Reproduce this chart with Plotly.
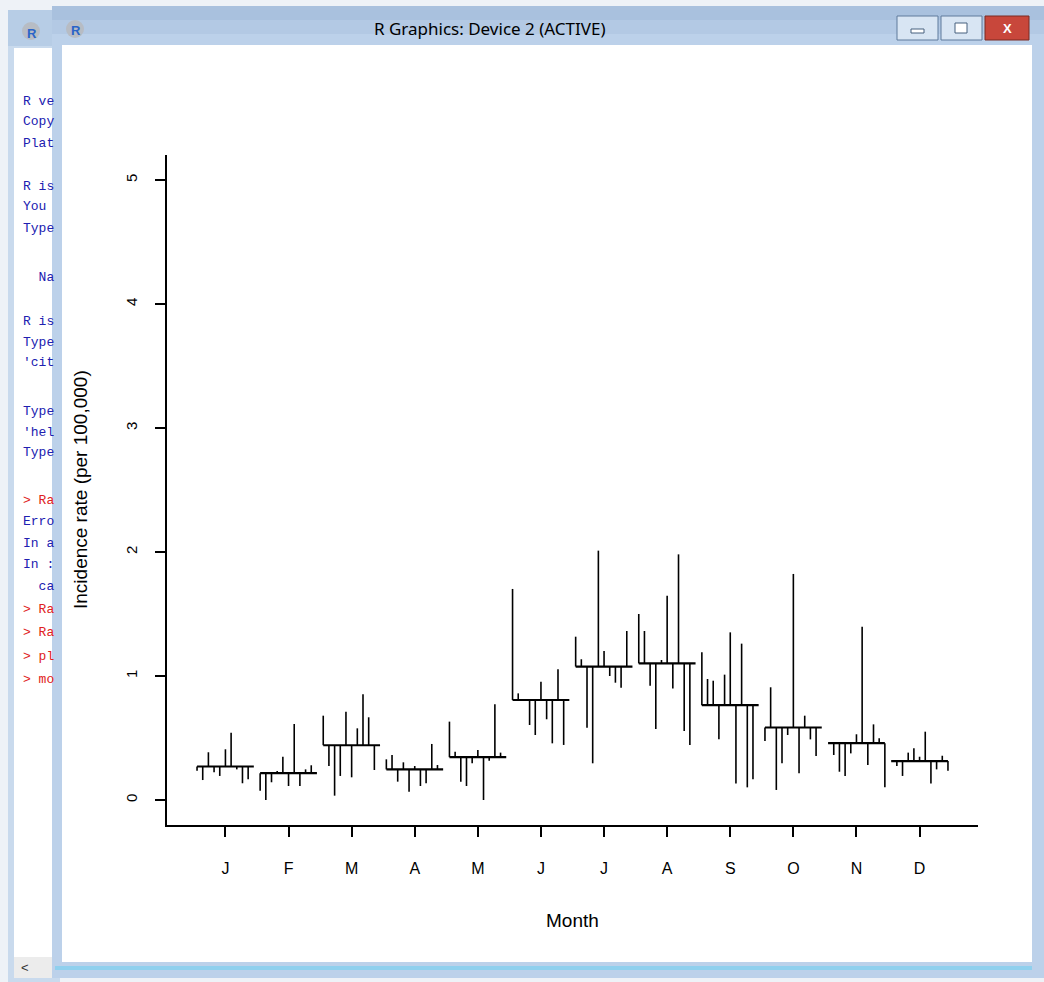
import plotly.graph_objects as go
import numpy as np

# ---------------- data ----------------
month_labels = ["J", "F", "M", "A", "M", "J", "J", "A", "S", "O", "N", "D"]
y_ticks = [0, 1, 2, 3, 4, 5]

# one entry per year slot (11 slots); None = no observation in that slot
jan = [0.236, 0.161, 0.385, 0.223, 0.194, 0.409, 0.543, 0.247, 0.135, 0.167, None]
feb = [0.075, 0.000, 0.143, 0.234, 0.349, 0.113, 0.613, 0.113, 0.247, 0.280, None]
mar = [0.680, 0.274, 0.035, 0.194, 0.712, 0.183, 0.578, 0.852, 0.667, 0.242, None]
apr = [0.328, 0.363, 0.148, 0.304, 0.067, 0.274, 0.113, 0.135, 0.452, 0.282, None]
may = [0.632, 0.390, 0.148, 0.113, 0.296, 0.403, 0.000, 0.317, 0.772, 0.382, None]
jun = [1.702, 0.860, 0.815, 0.605, 0.524, 0.954, 0.651, 0.457, 1.054, 0.444, None]
jul = [1.317, 1.135, 0.583, 0.296, 2.011, 1.202, 1.000, 0.946, 0.906, 1.363, None]
aug = [1.500, 1.363, 0.922, 0.573, 1.129, 1.648, 0.900, 1.981, 0.556, 0.444, None]
sep = [1.191, 0.976, 0.962, 0.489, 1.011, 1.352, 0.134, 1.261, 0.102, 0.167, None]
octo = [0.476, 0.909, 0.081, 0.296, 0.524, 1.823, 0.215, 0.680, 0.489, 0.355, None]
nov = [None, 0.363, 0.228, 0.194, 0.376, 0.530, 1.398, 0.282, 0.610, 0.497, 0.102]
dec = [None, 0.274, 0.194, 0.382, 0.417, 0.349, 0.551, 0.134, 0.247, 0.357, 0.236]

series = [jan, feb, mar, apr, may, jun, jul, aug, sep, octo, nov, dec]

console_lines = [
    ("R ve", 101, "#2020b0"), ("Copy", 122, "#2020b0"), ("Plat", 143, "#2020b0"),
    ("R is", 186, "#2020b0"), ("You", 207, "#2020b0"), ("Type", 228, "#2020b0"),
    ("  Na", 278, "#2020b0"), ("R is", 321, "#2020b0"), ("Type", 342, "#2020b0"),
    ("'cit", 363, "#2020b0"), ("Type", 411, "#2020b0"), ("'hel", 432, "#2020b0"),
    ("Type", 453, "#2020b0"), ("> Ra", 500, "#e02020"), ("Erro", 521, "#2020b0"),
    ("In a", 543, "#2020b0"), ("In :", 564, "#2020b0"), ("  ca", 586, "#2020b0"),
    ("> Ra", 609, "#e02020"), ("> Ra", 632, "#e02020"), ("> pl", 656, "#e02020"),
    ("> mo", 679, "#e02020"),
]

# ---------------- geometry helpers ----------------
W, H = 1044, 982
def px(x):
    return x / W
def py(y):
    return 1 - y / H

# ---------------- build monthplot traces ----------------
seg_x, seg_y, base_x, base_y = [], [], [], []
nslot = 11
for i, vals in enumerate(series, start=1):
    arr = np.array([np.nan if v is None else v for v in vals], dtype=float)
    m = float(np.nanmean(arr))
    for k, v in enumerate(vals):
        if v is None:
            continue
        xp = i - 0.45 + 0.9 * k / (nslot - 1)
        seg_x += [xp, xp, None]
        seg_y += [m, v, None]
    base_x += [i - 0.45, i + 0.45, None]
    base_y += [m, m, None]

fig = go.Figure()
fig.add_trace(go.Scatter(x=seg_x, y=seg_y, mode="lines",
                         line=dict(color="black", width=1.6), hoverinfo="skip",
                         showlegend=False))
fig.add_trace(go.Scatter(x=base_x, y=base_y, mode="lines",
                         line=dict(color="black", width=2.2), hoverinfo="skip",
                         showlegend=False))

# ---------------- window chrome ----------------
shapes = []
def rect(x0, y0, x1, y1, fill, line=None, lw=0, layer="below"):
    shapes.append(dict(type="rect", xref="paper", yref="paper",
                       x0=px(x0), x1=px(x1), y0=py(y1), y1=py(y0),
                       fillcolor=fill, line=dict(color=line or fill, width=lw),
                       layer=layer))

# console window (behind)
rect(8, 10, 60, 982, "#c9daed")
rect(8, 10, 60, 46, "#b7cde6")
rect(14, 48, 60, 957, "#ffffff")
rect(14, 957, 60, 978, "#ececec")
# graphics window frame
rect(52, 6, 1044, 978, "#bcd1ea")
rect(52, 6, 1044, 20, "#a9c1de")
rect(52, 20, 1044, 34, "#b3c9e4")
rect(62, 45, 1032, 962, "#ffffff")
rect(55, 966, 1032, 970, "#8fd0ee")
# title bar buttons
rect(897, 16, 938, 40, "#d8e5f3", "#5f7a9c", 1)
rect(941, 16, 982, 40, "#d8e5f3", "#5f7a9c", 1)
rect(985, 16, 1029, 40, "#c8473b", "#7a2a22", 1)
rect(911, 29, 924, 33, "#ffffff", "#46607f", 1)
rect(955, 23, 967, 33, "#ffffff", "#46607f", 1)
# R logos
shapes.append(dict(type="circle", xref="paper", yref="paper",
                   x0=px(22), x1=px(40), y0=py(40), y1=py(22),
                   fillcolor="#b7bcc4", line=dict(width=0), layer="below"))
shapes.append(dict(type="circle", xref="paper", yref="paper",
                   x0=px(66), x1=px(84), y0=py(38), y1=py(20),
                   fillcolor="#b7bcc4", line=dict(width=0), layer="below"))

annotations = []
def text(s, x, y, size, color="black", family="Liberation Sans", xanchor="center",
         yanchor="middle", angle=0, bold=False):
    annotations.append(dict(text=("<b>%s</b>" % s) if bold else s, x=px(x), y=py(y),
                            xref="paper", yref="paper", showarrow=False,
                            xanchor=xanchor, yanchor=yanchor, textangle=angle,
                            font=dict(size=size, color=color, family=family)))

text("R Graphics: Device 2 (ACTIVE)", 490, 29, 17, family="Noto Sans")
text("R", 32, 33, 13, color="#2a64c8", bold=True)
text("R", 76, 30, 13, color="#2a64c8", bold=True)
text("X", 1007, 28, 13, color="#ffffff", bold=True)
text("<", 25, 967, 13, color="#333333")
for s, yy, col in console_lines:
    text(s.replace(" ", "&nbsp;"), 21, yy, 13, color=col, family="Liberation Mono",
         xanchor="left")

# axis titles
text("Incidence rate (per 100,000)", 80, 490, 19, angle=-90)
text("Month", 572, 920, 19)

fig.update_layout(
    width=W, height=H,
    margin=dict(l=0, r=0, t=0, b=0),
    paper_bgcolor="#eef2f7",
    plot_bgcolor="rgba(0,0,0,0)",
    shapes=shapes,
    annotations=annotations,
    showlegend=False,
    xaxis=dict(domain=[px(167), px(978)], range=[0.074, 12.926],
               tickvals=list(range(1, 13)), ticktext=month_labels,
               ticks="outside", ticklen=10, tickwidth=1.5, tickcolor="black",
               showline=True, linecolor="black", linewidth=1.5,
               showgrid=False, zeroline=False, ticklabelstandoff=18,
               tickfont=dict(size=16, family="Liberation Sans", color="black")),
    yaxis=dict(domain=[py(825), py(155)], range=[-0.2016, 5.2016],
               tickvals=y_ticks, ticktext=[str(t) for t in y_ticks],
               tickangle=-90,
               ticks="outside", ticklen=10, tickwidth=1.5, tickcolor="black",
               showline=True, linecolor="black", linewidth=1.5,
               showgrid=False, zeroline=False, ticklabelstandoff=12,
               tickfont=dict(size=15, family="Liberation Sans", color="black")),
)

fig.write_html("out.html",
               config={"displayModeBar": False},
               post_script="document.body.style.margin='0';"
                           "document.body.style.overflow='hidden';")
